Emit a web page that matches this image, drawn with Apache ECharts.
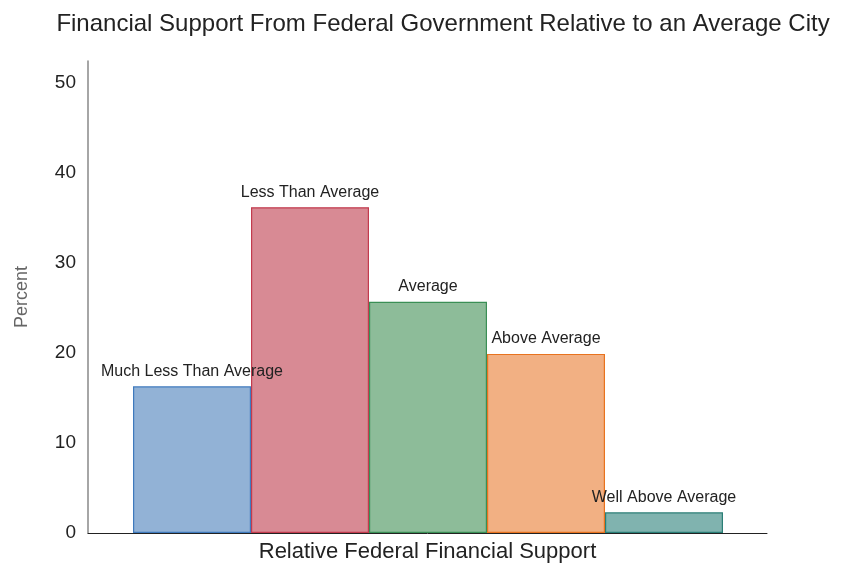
<!DOCTYPE html>
<html><head><meta charset="utf-8">
<script src="https://cdn.jsdelivr.net/npm/echarts@6/dist/echarts.min.js"></script>
<style>html,body{margin:0;padding:0;background:#fff}#c{width:844px;height:565px}</style>
</head><body><div id="c"></div>
<script>
const categories = ["Much Less Than Average","Less Than Average","Average","Above Average","Well Above Average"];
const percents = [16.3, 36.2, 25.7, 19.9, 2.3];
const fillColors = ["#92b2d6","#d88a94","#8dbc99","#f2b083","#80b3af"];
const borderColors = ["#3f7abd","#c23b4e","#3a8f55","#e8731f","#2a7e76"];
const yTicks = [0,10,20,30,40,50];

(function(){
const chart = echarts.init(document.getElementById('c'));
const font = "Liberation Sans, Arial, Helvetica, sans-serif";
const gTop = 61, gBottom = 565-533, yMax = (533-61)/9;
chart.setOption({
  animation:false,
  title:{text:"Financial Support From Federal Government Relative to an Average City",left:438,textAlign:'center',top:7,
    textStyle:{fontFamily:font,fontSize:24,fontWeight:'normal',color:'#222'}},
  grid:[
    {left:88,right:77,top:gTop,bottom:gBottom,outerBoundsMode:'none',containLabel:false},
    {left:133,width:590,top:gTop,bottom:gBottom,outerBoundsMode:'none',containLabel:false}
  ],
  xAxis:[
    {type:'value',gridIndex:0,min:0,max:1,axisLine:{show:true,lineStyle:{color:'#222',width:1}},axisTick:{show:false},axisLabel:{show:false},splitLine:{show:false},
      name:"Relative Federal Financial Support",nameLocation:'middle',nameGap:8,
      nameTextStyle:{fontFamily:font,fontSize:22,color:'#222'}},
    {type:'category',gridIndex:1,data:categories,axisLine:{show:false},axisTick:{show:false},axisLabel:{show:false}}
  ],
  yAxis:[
    {type:'value',gridIndex:0,min:0,max:yMax,interval:10,
      axisLine:{show:true,lineStyle:{color:'#888',width:1.5}},axisTick:{show:false},splitLine:{show:false},
      axisLabel:{margin:12,fontFamily:font,fontSize:19,color:'#222',formatter:v=>yTicks.includes(v)?String(v):''},
      name:"Percent",nameLocation:'middle',nameGap:57,nameTextStyle:{fontFamily:font,fontSize:18,color:'#666'}},
    {type:'value',gridIndex:1,min:0,max:yMax,show:false}
  ],
  series:[{
    type:'bar',xAxisIndex:1,yAxisIndex:1,barCategoryGap:'0%',
    data:percents.map((v,i)=>({value:v,itemStyle:{color:fillColors[i],borderColor:borderColors[i],borderWidth:1.2}})),
    label:{show:true,position:'top',distance:7,formatter:p=>categories[p.dataIndex],fontFamily:font,fontSize:16,color:'#222'}
  }]
});
})();
</script></body></html>
